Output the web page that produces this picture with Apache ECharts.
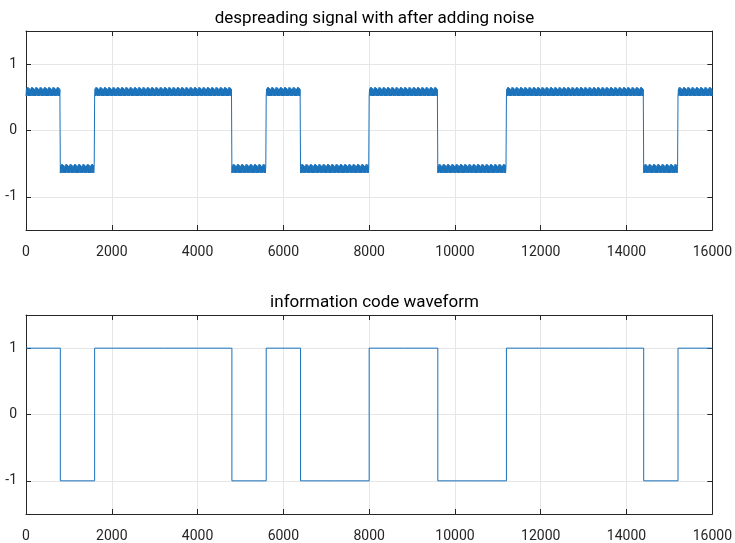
<!DOCTYPE html>
<html>
<head>
<meta charset="utf-8">
<script src="https://cdn.jsdelivr.net/npm/echarts@6/dist/echarts.min.js"></script>
<style>
  html, body { margin: 0; padding: 0; background: #fff; }
  #chart { width: 735px; height: 543px; }
</style>
</head>
<body>
<div id="chart"></div>
<script>
// information bits, one per 800 samples
const bits = [1, -1, 1, 1, 1, 1, -1, 1, -1, -1, 1, 1, -1, -1, 1, 1, 1, 1, -1, 1];
const bitLen = 800;
// despread level and the ripple riding on it (one 100-sample period, 10-sample steps)
const despreadLevel = 0.58;
const rippleStep = 10;
const ripple = [-0.06, 0.05, -0.06, 0.07, -0.05, 0.07, -0.06, 0.06, -0.06, 0.04];
const xTicks = [0, 2000, 4000, 6000, 8000, 10000, 12000, 14000, 16000];
const yTicks = [-1, 0, 1];

const FONT = 'Roboto, "Liberation Sans", sans-serif';
const LINE = '#1a72bb';

// top: despread signal
const noisy = [];
bits.forEach((b, i) => {
  for (let s = 0; s < bitLen; s += rippleStep) {
    const k = (s / rippleStep) % ripple.length;
    noisy.push([i * bitLen + s, b * despreadLevel + ripple[k]]);
  }
});
noisy.push([bits.length * bitLen, bits[bits.length - 1] * despreadLevel + ripple[0]]);

// bottom: code waveform as steps
const code = [];
bits.forEach((b, i) => {
  code.push([i * bitLen, b], [(i + 1) * bitLen, b]);
});

const grids = [
  { left: 26, top: 31, width: 687, height: 199 },
  { left: 26, top: 315, width: 687, height: 199 },
];

function xAx(gi, pos) {
  return {
    type: 'value', gridIndex: gi, position: pos, min: 0, max: 16000, interval: 2000,
    axisLine: { show: true, onZero: false, lineStyle: { color: '#262626', width: 1 } },
    axisTick: { show: true, inside: true, length: 5, customValues: xTicks, lineStyle: { color: '#262626' } },
    axisLabel: { show: pos === 'bottom', customValues: xTicks, formatter: v => String(v),
      color: '#262626', fontFamily: FONT, fontSize: 14, margin: 15 },
    splitLine: { show: pos === 'bottom', lineStyle: { color: '#e6e6e6', width: 1 } },
  };
}
function yAx(gi, pos) {
  return {
    type: 'value', gridIndex: gi, position: pos, min: -1.5, max: 1.5, interval: 0.5,
    axisLine: { show: true, onZero: false, lineStyle: { color: '#262626', width: 1 } },
    axisTick: { show: true, inside: true, length: 5, customValues: yTicks, lineStyle: { color: '#262626' } },
    axisLabel: { show: pos === 'left', customValues: yTicks, formatter: v => String(v),
      color: '#262626', fontFamily: FONT, fontSize: 14, margin: 9 },
    splitLine: { show: pos === 'left', lineStyle: { color: '#e6e6e6', width: 1 } },
  };
}

const chart = echarts.init(document.getElementById('chart'), null, { renderer: 'canvas' });
chart.setOption({
  animation: false,
  backgroundColor: '#fff',
  title: [
    { text: 'despreading signal with after adding noise', left: 369.5, top: 5, textAlign: 'center',
      textStyle: { fontFamily: FONT, fontSize: 17, fontWeight: 'normal', color: '#000' } },
    { text: 'information code waveform', left: 369.5, top: 289, textAlign: 'center',
      textStyle: { fontFamily: FONT, fontSize: 17, fontWeight: 'normal', color: '#000' } },
  ],
  grid: grids,
  xAxis: [xAx(0, 'bottom'), xAx(0, 'top'), xAx(1, 'bottom'), xAx(1, 'top')],
  yAxis: [yAx(0, 'left'), yAx(0, 'right'), yAx(1, 'left'), yAx(1, 'right')],
  series: [
    { type: 'line', xAxisIndex: 0, yAxisIndex: 0, data: noisy, showSymbol: false,
      lineStyle: { color: LINE, width: 1 } },
    { type: 'line', xAxisIndex: 2, yAxisIndex: 2, data: code, showSymbol: false,
      lineStyle: { color: LINE, width: 1 } },
  ],
});
</script>
</body>
</html>
